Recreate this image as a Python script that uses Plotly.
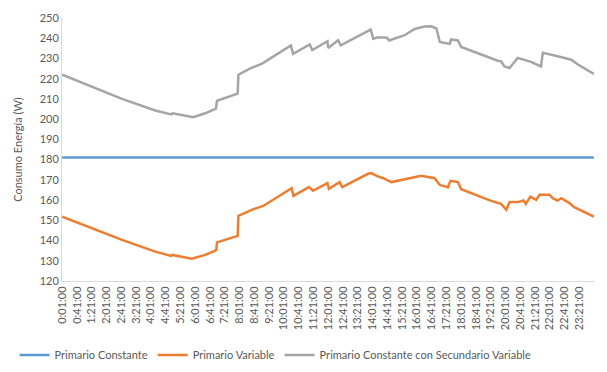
import plotly.graph_objects as go

# ---- data ----
tick_labels = ["0:01:00", "0:41:00", "1:21:00", "2:01:00", "2:41:00", "3:21:00",
               "4:01:00", "4:41:00", "5:21:00", "6:01:00", "6:41:00", "7:21:00",
               "8:01:00", "8:41:00", "9:21:00", "10:01:00", "10:41:00", "11:21:00",
               "12:01:00", "12:41:00", "13:21:00", "14:01:00", "14:41:00", "15:21:00",
               "16:01:00", "16:41:00", "17:21:00", "18:01:00", "18:41:00", "19:21:00",
               "20:01:00", "20:41:00", "21:21:00", "22:01:00", "22:41:00", "23:21:00"]

const_times = ["0:01", "24:00"]
const_values = [181, 181]

var_times = ["0:01", "1:12", "2:43", "4:13", "4:56", "4:59", "5:52", "6:28", "6:58", "7:00",
             "7:56", "7:58", "8:34", "9:05", "10:22", "10:27", "11:09", "11:20", "11:59", "12:03",
             "12:32", "12:39", "13:49", "13:58", "14:12", "14:30", "14:52", "16:13", "16:49", "17:03",
             "17:25", "17:32", "17:52", "18:01", "19:22", "19:49", "20:03", "20:12", "20:34", "20:50",
             "20:56", "21:08", "21:24", "21:33", "22:00", "22:09", "22:22", "22:32", "22:54", "23:07",
             "24:00"]
var_values = [151.8, 146.6, 140.3, 134.5, 132.4, 132.9, 131.0, 132.9, 135.3, 139.1,
              142.3, 152.2, 155.2, 157.1, 165.9, 162.1, 166.4, 164.6, 168.4, 165.6,
              168.9, 166.4, 173.0, 173.3, 172.0, 170.8, 168.9, 172.0, 170.8, 167.5,
              166.4, 169.5, 168.9, 165.4, 159.6, 158.1, 155.2, 159.0, 159.0, 159.8,
              158.1, 161.7, 160.1, 162.6, 162.6, 160.9, 159.8, 160.9, 158.5, 156.5,
              151.8]

sec_times = ["0:01", "1:12", "2:43", "4:13", "4:56", "5:00", "5:56", "6:28", "6:57", "7:00",
             "7:56", "7:58", "8:29", "9:01", "10:20", "10:26", "11:11", "11:18", "11:59", "12:01",
             "12:28", "12:35", "13:49", "13:56", "14:03", "14:17", "14:40", "14:46", "15:28", "15:55",
             "16:22", "16:40", "16:54", "17:03", "17:30", "17:34", "17:52", "18:01", "19:40", "19:49",
             "19:58", "20:12", "20:34", "21:10", "21:37", "21:42", "22:22", "22:59", "23:17", "24:00"]
sec_values = [222.0, 216.6, 210.0, 204.3, 202.3, 202.9, 201.0, 202.9, 205.2, 209.1,
              212.6, 222.0, 225.0, 227.3, 236.4, 232.3, 236.9, 234.2, 238.5, 235.2,
              239.0, 236.5, 243.8, 244.3, 239.8, 240.5, 240.2, 238.9, 241.5, 244.6,
              245.8, 245.9, 244.8, 238.2, 237.2, 239.4, 238.9, 235.7, 228.9, 228.6,
              226.1, 225.3, 230.3, 228.3, 226.1, 232.8, 231.1, 229.4, 227.0, 222.4]


def to_min(t):
    parts = t.split(":")
    return int(parts[0]) * 60 + int(parts[1])


FONT = "Lato, 'Liberation Sans', sans-serif"
TXT = "#595959"

fig = go.Figure()
fig.add_trace(go.Scatter(x=[to_min(t) for t in const_times], y=const_values, mode="lines",
                         name="Primario Constante", line=dict(color="#5B9BD5", width=2.5)))
fig.add_trace(go.Scatter(x=[to_min(t) for t in var_times], y=var_values, mode="lines",
                         name="Primario Variable", line=dict(color="#ED7D31", width=2.5)))
fig.add_trace(go.Scatter(x=[to_min(t) for t in sec_times], y=sec_values, mode="lines",
                         name="Primario Constante con Secundario Variable",
                         line=dict(color="#A5A5A5", width=2.5)))

fig.update_layout(
    width=607, height=372,
    margin=dict(l=62, r=13, t=18, b=91, autoexpand=False),
    paper_bgcolor="white", plot_bgcolor="white",
    font=dict(family=FONT, size=11, color=TXT),
    showlegend=True,
    legend=dict(orientation="h", xref="container", yref="container",
                x=0.024, xanchor="left", y=0.046, yanchor="middle",
                font=dict(size=11, color=TXT), itemwidth=30, tracegroupgap=0),
)
fig.update_xaxes(
    type="linear", range=[0.5, 1440.5],
    tickvals=[to_min(t) for t in tick_labels], ticktext=tick_labels,
    tickangle=-90, ticks="", showgrid=False, zeroline=False,
    showline=True, linecolor="#D9D9D9", linewidth=1,
    tickfont=dict(size=11, color=TXT),
)
fig.update_yaxes(
    range=[120, 250], dtick=10, tick0=120, ticks="", showgrid=False, zeroline=False,
    showline=True, linecolor="#D9D9D9", linewidth=1,
    tickfont=dict(size=11, color=TXT),
    title=dict(text="Consumo Energía (W)", font=dict(size=11, color=TXT), standoff=14),
)

fig.write_html("out.html", config={"displayModeBar": False},
               post_script="document.body.style.margin='0';document.body.style.overflow='hidden';")
